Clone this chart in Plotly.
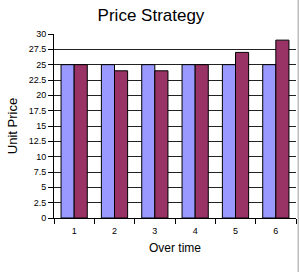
import plotly.graph_objects as go

categories = ["1", "2", "3", "4", "5", "6"]
series_a = [25, 25, 25, 25, 25, 25]
series_b = [25, 24, 24, 25, 27, 29]
y_ticks = [0, 2.5, 5, 7.5, 10, 12.5, 15, 17.5, 20, 22.5, 25, 27.5, 30]

fig = go.Figure()
fig.add_trace(go.Bar(x=categories, y=series_a, marker=dict(color="#9999FF", line=dict(color="#000000", width=1))))
fig.add_trace(go.Bar(x=categories, y=series_b, marker=dict(color="#993366", line=dict(color="#000000", width=1))))

fig.update_layout(
    width=299, height=272,
    margin=dict(l=54, r=3, t=34, b=54),
    paper_bgcolor="white", plot_bgcolor="white",
    showlegend=False,
    barmode="group", bargap=0.35, bargroupgap=0,
    font=dict(family="Liberation Sans, Arial, sans-serif", color="#000000"),
    title=dict(text="Price Strategy", x=151/299, xanchor="center", y=1-15/272, yanchor="middle",
               font=dict(size=17, color="#000000")),
    xaxis=dict(
        title=dict(text="Over time", font=dict(size=12), standoff=8),
        tickson="boundaries", ticks="outside", ticklen=5, tickcolor="#000000",
        showline=True, linecolor="#000000", linewidth=1,
        tickfont=dict(size=9), ticklabelstandoff=4, showgrid=False,
    ),
    yaxis=dict(
        title=dict(text="Unit Price", font=dict(size=13), standoff=8),
        range=[0, 30], tickvals=y_ticks, ticks="outside", ticklen=5, tickcolor="#000000",
        showline=True, linecolor="#000000", linewidth=1,
        showgrid=True, gridcolor="#222222", gridwidth=1,
        tickfont=dict(size=9), zeroline=False,
    ),
    shapes=[dict(type="line", xref="paper", yref="paper", x0=1 + 2.5/242, x1=1 + 2.5/242, y0=-1, y1=2,
                 line=dict(color="#bbbbbb", width=2))],
)

fig.write_html("out.html")
